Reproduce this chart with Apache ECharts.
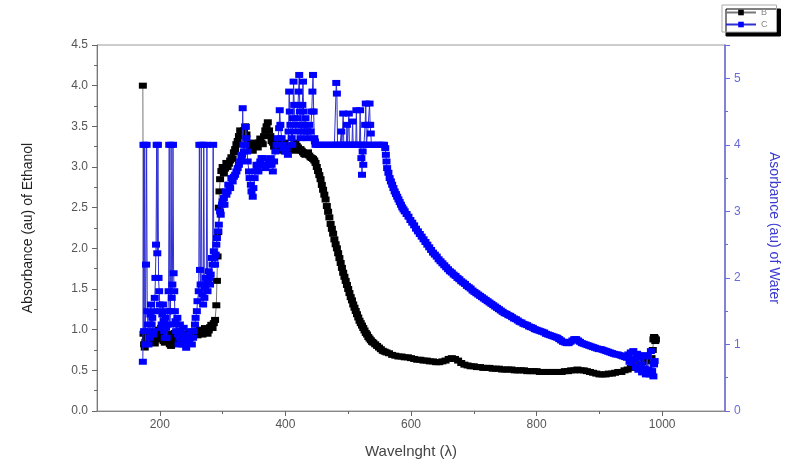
<!DOCTYPE html>
<html><head><meta charset="utf-8">
<script src="https://cdn.jsdelivr.net/npm/echarts@6/dist/echarts.min.js"></script>
<style>html,body{margin:0;padding:0;background:#fff}#c{width:791px;height:470px}</style>
</head><body><div id="c"></div>
<script>
var xTickLabels = [200, 400, 600, 800, 1000];
var xMinorTicks = [300, 500, 700, 900];
var rightTickLabels = [0, 1, 2, 3, 4, 5];

// Ethanol (B), left axis: [wavelength, absorbance]
var ethanol = [
[173,4.0],[174,0.95],[175,0.82],[176,0.78],[177,0.85],[178,0.9],[179,0.84],[180,0.88],[182,0.92],[184,0.86],[186,0.9],[188,0.95],[190,0.87],[192,0.83],[194,0.9],[196,0.96],[198,1.0],[200,0.93],[202,0.88],[204,0.92],[206,0.86],[208,0.84],[210,0.9],[212,0.95],[214,0.88],[216,0.82],[218,0.8],[220,0.86],[222,0.92],[224,0.96],[226,0.9],[228,0.87],[230,0.93],[232,0.97],[234,0.92],[236,0.88],[238,0.91],[240,0.95],[242,0.93],[244,0.9],[246,0.94],[248,0.97],[250,0.95],[252,0.92],[254,0.96],[256,0.99],[258,0.95],[260,0.93],[262,0.97],[264,1.0],[266,0.96],[268,0.94],[270,0.98],[272,1.02],[274,0.97],[276,0.95],[278,0.99],[280,1.03],[282,1.06],[284,1.02],[286,1.08],[288,1.12],
[290,1.3],[291,1.6],[292,1.9],[293,2.2],[294,2.5],[295,2.7],[296,2.85],[298,2.95],[300,3.0],[302,2.92],[304,2.98],[306,3.05],[308,3.0],[310,3.04],[312,3.08],[314,3.12],[316,3.1],[318,3.18],[320,3.22],[322,3.28],[324,3.32],[326,3.38],[328,3.45],[330,3.42],[332,3.38],[334,3.45],[336,3.5],[338,3.4],[340,3.3],[342,3.28],[344,3.22],[346,3.25],[348,3.2],[350,3.26],[352,3.3],[354,3.28],[356,3.24],[358,3.3],[360,3.35],[362,3.3],[364,3.28],[366,3.38],[368,3.45],[370,3.5],[372,3.55],[374,3.45],[376,3.38],[378,3.32],[380,3.3],[382,3.25],[384,3.28],[386,3.3],[388,3.26],[390,3.2],[392,3.22],[394,3.25],[396,3.28],[398,3.3],[400,3.25],[402,3.2],[404,3.22],[406,3.26],[408,3.24],[410,3.2],[412,3.22],[414,3.28],[416,3.3],[418,3.26],[420,3.24],[422,3.2],[424,3.22],[426,3.2],[428,3.18],[430,3.16],[432,3.15],[434,3.17],[436,3.18],[438,3.14],[440,3.12],[442,3.11],[444,3.1],[446,3.08],[448,3.05],
[450,3.0],[452,2.95],[454,2.9],[456,2.85],[458,2.78],[460,2.72],[462,2.66],[464,2.6],[466,2.52],[468,2.45],[470,2.38],[472,2.3],[474,2.24],[476,2.18],[478,2.11],[480,2.05],[482,2.0],[484,1.94],[486,1.88],[488,1.82],[490,1.76],[492,1.7],[494,1.65],[496,1.6],[498,1.55],[500,1.5],[502,1.45],[504,1.4],[506,1.36],[508,1.31],[510,1.27],[512,1.23],[514,1.19],[516,1.15],[518,1.11],[520,1.08],[522,1.05],[524,1.02],[526,0.99],[528,0.96],[530,0.94],[532,0.91],[534,0.89],[536,0.87],[538,0.85],[540,0.84],[543,0.82],[546,0.8],[549,0.78],[552,0.76],[555,0.74],[558,0.73],[561,0.72],[565,0.71],[570,0.69],[575,0.68],[580,0.67],[585,0.67],[590,0.66],[595,0.66],
[600,0.65],[605,0.64],[610,0.63],[615,0.63],[620,0.62],[625,0.62],[630,0.61],[635,0.61],[640,0.6],[645,0.6],[650,0.61],[655,0.62],[660,0.64],[665,0.65],[670,0.64],[675,0.62],[680,0.59],[685,0.57],[690,0.56],[695,0.55],[700,0.55],[705,0.54],[710,0.54],[715,0.53],[720,0.53],[725,0.53],[730,0.52],[735,0.52],[740,0.52],[745,0.51],[750,0.51],[755,0.51],[760,0.51],[765,0.5],[770,0.5],[775,0.5],[780,0.5],[785,0.49],[790,0.49],[795,0.49],
[800,0.49],[805,0.48],[810,0.48],[815,0.48],[820,0.48],[825,0.48],[830,0.48],[835,0.48],[840,0.48],[845,0.49],[850,0.49],[855,0.5],[860,0.5],[865,0.51],[870,0.5],[875,0.5],[880,0.49],[885,0.48],[890,0.47],[895,0.46],[900,0.45],[905,0.45],[910,0.45],[915,0.46],[920,0.46],[925,0.47],[930,0.48],[935,0.48],[940,0.5],[945,0.51],[950,0.53],[955,0.55],[960,0.56],[965,0.58],[970,0.6],[975,0.61],[980,0.63],[983,0.65],[985,0.75],[986,0.88],[987,0.91],[988,0.9],[989,0.86],[990,0.88]
];

// Water (C), right axis: [wavelength, absorbance]
var water = [
[173,0.74],[174,4.0],[175,1.2],[176,4.0],[177,1.0],[178,2.2],[179,4.0],[180,1.5],[181,1.3],[182,1.0],[183,1.2],[184,1.1],[185,1.45],[186,1.6],[187,1.3],[188,1.4],[189,1.15],[190,1.2],[191,1.5],[192,1.7],[193,2.0],[194,2.5],[195,4.0],[196,2.37],[197,4.0],[198,2.0],[199,1.8],[200,1.6],[201,1.5],[202,1.25],[203,1.3],[204,1.45],[205,1.6],[206,1.35],[207,1.2],[208,1.1],[209,1.4],[210,1.25],[211,1.1],[212,1.3],[213,1.5],[214,1.8],[215,4.0],[216,1.3],[217,1.5],[218,4.0],[219,1.7],[220,1.9],[221,4.0],[222,2.07],[223,1.8],[224,1.5],[225,1.35],[226,1.2],[227,1.3],[228,1.4],[229,1.15],[230,1.0],[231,1.1],[232,1.3],[233,1.2],[235,1.1],[236,1.0],[238,1.25],[239,1.1],[241,1.0],[242,0.95],[244,1.15],[245,1.05],[247,1.05],[248,1.1],[250,1.2],[251,1.0],[253,1.1],[254,1.2],[256,1.3],[257,1.4],[259,1.5],[260,1.65],[262,1.8],[263,4.0],[264,2.12],[265,1.9],[266,4.0],[267,1.9],[268,1.75],[269,1.6],[270,4.0],[271,1.7],[272,1.85],[273,2.0],[274,1.9],[275,4.0],[276,1.8],[277,1.95],[278,2.1],[279,2.0],[280,1.9],[281,2.05],[283,2.3],[284,2.2],[285,4.0],[286,2.4],[287,2.3],[288,2.2],[289,2.35],
[290,2.5],[291,2.6],[293,2.7],[294,2.8],[296,3.0],[297,2.95],[299,3.1],[300,3.15],[302,3.2],[303,3.1],[305,3.3],[306,3.25],[308,3.3],[309,3.4],[311,3.4],[312,3.35],[314,3.5],[316,3.45],[318,3.52],[320,3.55],[322,3.6],[324,3.65],[326,3.7],[328,3.75],[330,3.8],[331,3.85],[332,4.55],[333,4.0],[334,3.9],[336,4.0],[337,4.27],[338,4.1],[339,3.9],[340,3.75],[342,3.6],[343,3.5],[345,3.4],[346,3.3],[348,3.22],[349,3.35],[351,3.5],[352,3.6],[354,3.7],[355,3.65],[357,3.6],[358,3.7],[360,3.75],[362,3.8],[364,3.8],[366,3.7],[368,3.65],[370,3.7],[372,3.7],[374,3.75],[376,3.8],[378,3.7],[380,3.6],[382,3.75],[384,3.9],[386,4.0],[388,4.1],[390,4.25],[391,4.52],[392,4.3],[394,4.1],[396,4.0],[397,3.95],[399,3.9],[400,3.9],[402,3.95],[404,3.85],[405,4.2],[406,4.8],[407,4.5],[408,4.3],[410,4.1],[411,4.0],[412,4.4],[413,4.95],[414,4.6],[416,4.2],[418,4.3],[419,4.4],[420,4.6],[421,4.8],[422,5.05],[423,4.5],[424,4.1],[425,4.2],[426,4.3],[427,4.6],[428,4.95],[429,4.5],[430,4.2],[431,4.3],[432,4.4],[434,4.2],[435,4.1],[437,4.2],[438,4.3],[440,4.2],[442,4.5],[443,4.8],[444,5.05],[445,4.5],[446,4.1],[447,4.05],[448,4.0],
[451,4.0],[454,4.0],[457,4.0],[460,4.0],[463,4.0],[466,4.0],[469,4.0],[472,4.0],[475,4.0],[478,4.0],[480,4.0],[481,4.93],[482,4.77],[483,4.0],[485,4.0],[487,4.0],[489,4.2],[490,4.0],[492,4.47],[493,4.0],[495,4.0],[497,4.0],[498,4.3],[499,4.0],[501,4.47],[502,4.0],[504,4.0],[506,4.0],[507,4.35],[508,4.0],[510,4.0],[512,4.0],[513,4.52],[514,4.0],[516,4.0],[518,4.0],[519,4.52],[520,4.0],[521,3.8],[522,3.55],[523,3.9],[524,3.7],[525,4.0],[526,4.0],[527,4.3],[528,4.62],[529,4.0],[531,4.0],[532,4.3],[534,4.62],[535,4.3],[536,4.17],[537,4.0],[540,4.0],[543,4.0],[546,4.0],[549,4.0],[552,4.0],[555,4.0],[557,4.0],
[559,3.95],[560,3.85],[561,3.75],[562,3.65],[564,3.58],[566,3.5],[568,3.45],[570,3.4],[572,3.35],[574,3.3],[576,3.26],[578,3.22],[580,3.18],[582,3.14],[584,3.1],[586,3.06],[588,3.03],[590,3.0],[593,2.96],[596,2.92],[599,2.87],[602,2.83],[605,2.79],[608,2.74],[611,2.7],[614,2.66],[617,2.62],[620,2.58],[623,2.54],[626,2.5],[629,2.46],[632,2.42],[635,2.38],[638,2.35],[641,2.32],[644,2.28],[647,2.25],[650,2.22],[653,2.19],[656,2.16],[659,2.13],[662,2.1],[665,2.08],[668,2.05],[671,2.03],[674,2.0],[677,1.98],[680,1.95],[683,1.93],[686,1.91],[689,1.88],[692,1.86],[695,1.84],[698,1.81],
[701,1.79],[704,1.77],[707,1.75],[710,1.73],[713,1.71],[716,1.69],[719,1.67],[722,1.65],[725,1.63],[728,1.61],[731,1.59],[734,1.57],[737,1.55],[740,1.53],[743,1.51],[746,1.49],[749,1.47],[752,1.46],[755,1.44],[758,1.43],[761,1.41],[764,1.39],[767,1.38],[770,1.36],[773,1.34],[776,1.33],[779,1.31],[782,1.3],[785,1.29],[788,1.27],[791,1.26],[794,1.25],[797,1.23],
[800,1.22],[803,1.21],[806,1.2],[809,1.19],[812,1.18],[815,1.16],[818,1.15],[821,1.14],[824,1.13],[827,1.12],[830,1.11],[833,1.1],[836,1.08],[839,1.06],[842,1.04],[845,1.03],[848,1.02],[851,1.02],[854,1.04],[857,1.06],[860,1.08],[863,1.08],[866,1.06],[869,1.04],[872,1.02],[875,1.01],[878,1.0],[881,0.99],[884,0.98],[887,0.97],[890,0.96],[893,0.95],[896,0.94],[899,0.93],
[902,0.93],[905,0.92],[908,0.91],[911,0.9],[914,0.89],[917,0.88],[920,0.87],[923,0.86],[926,0.85],[929,0.85],[932,0.84],[935,0.83],[938,0.82],[941,0.81],[944,0.8],[946,0.85],[948,0.74],[950,0.88],[952,0.72],[954,0.9],[956,0.78],[958,0.66],[960,0.86],[962,0.62],[964,0.8],[966,0.7],[968,0.58],[970,0.84],[972,0.64],[974,0.55],[976,0.82],[978,0.62],[980,0.55],[982,0.9],[984,0.6],[986,0.52],[987,0.7],[988,0.75]
];

var chart = echarts.init(document.getElementById('c'), null, {renderer:'canvas'});
var font = 'Arial, "Liberation Sans", sans-serif';
chart.setOption({
  animation: false,
  backgroundColor: '#fff',
  grid: {left: 97, right: 66, top: 45, bottom: 59, show: true, borderColor: '#9a9a9a', borderWidth: 1},
  legend: {
    orient: 'vertical', left: 722, top: 5, padding: [3, 9, 3, 3], itemGap: 3,
    itemWidth: 30, itemHeight: 7,
    backgroundColor: '#fff', borderColor: '#aaa', borderWidth: 1,
    shadowColor: '#000', shadowBlur: 0, shadowOffsetX: 4, shadowOffsetY: 4,
    textStyle: {fontSize: 9, color: '#888', fontFamily: font},
    data: ['B', 'C']
  },
  xAxis: [{
    type: 'value', min: 100, max: 1100, interval: 100,
    name: 'Wavelnght (\u03bb)', nameLocation: 'middle', nameGap: 33,
    nameTextStyle: {fontSize: 15, color: '#444', fontFamily: font},
    axisLine: {lineStyle: {color: '#888', width: 1}},
    axisTick: {show: true, length: 5, customValues: xTickLabels, lineStyle: {color: '#666'}},
    axisLabel: {fontSize: 12, color: '#555', fontFamily: font, margin: 8,
      customValues: xTickLabels, formatter: function(v){ return String(v); }},
    splitLine: {show: false}
  }, {
    type: 'value', min: 100, max: 1100, interval: 100, position: 'bottom',
    axisLine: {show: false},
    axisTick: {show: true, length: 3, customValues: xMinorTicks, lineStyle: {color: '#666'}},
    axisLabel: {show: false},
    splitLine: {show: false}
  }],
  yAxis: [{
    type: 'value', min: 0, max: 4.5, interval: 0.5, position: 'left',
    name: 'Absorbance (au) of Ethanol', nameLocation: 'middle', nameGap: 62, nameRotate: 90,
    nameTextStyle: {fontSize: 14, color: '#222', fontFamily: font},
    axisLine: {show: true, lineStyle: {color: '#777', width: 1}},
    axisTick: {show: true, length: 5, lineStyle: {color: '#666'}},
    minorTick: {show: true, splitNumber: 2, length: 3, lineStyle: {color: '#666'}},
    axisLabel: {fontSize: 12, color: '#555', fontFamily: font, margin: 9,
      formatter: function(v){ return v.toFixed(1); }},
    splitLine: {show: false}
  }, {
    type: 'value', min: 0, max: 5.5, interval: 1, position: 'right',
    name: 'Asorbance (au) of Water', nameLocation: 'middle', nameGap: 42, nameRotate: -90,
    nameTextStyle: {fontSize: 14, color: '#3a3ad0', fontFamily: font},
    axisLine: {show: true, lineStyle: {color: '#6a6ad8', width: 1.5}},
    axisTick: {show: true, length: 5, lineStyle: {color: '#6a6ad8'}},
    minorTick: {show: true, splitNumber: 2, length: 3, lineStyle: {color: '#6a6ad8'}},
    axisLabel: {fontSize: 12, color: '#6a6ad8', fontFamily: font, margin: 9,
      customValues: rightTickLabels},
    splitLine: {show: false}
  }],
  series: [{
    name: 'B', type: 'line', yAxisIndex: 0, data: ethanol,
    symbol: 'rect', symbolSize: [8, 6], showAllSymbol: true,
    itemStyle: {color: '#000'},
    lineStyle: {color: '#777', width: 1}, z: 2
  }, {
    name: 'C', type: 'line', yAxisIndex: 1, data: water,
    symbol: 'rect', symbolSize: [8, 6], showAllSymbol: true,
    itemStyle: {color: '#0000ff'},
    lineStyle: {color: '#3030d0', width: 1}, z: 3
  }]
});
</script></body></html>
